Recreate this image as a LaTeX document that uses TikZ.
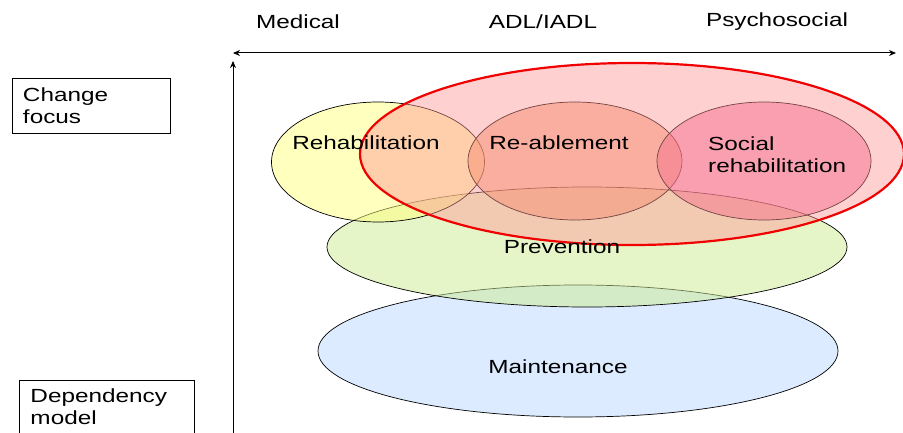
\documentclass[tikz,border=0pt]{standalone}
\usepackage{fontspec}
\setmainfont{Liberation Sans}[FakeStretch=1.28]
\usetikzlibrary{shapes.geometric,arrows.meta}
\definecolor{rehabfill}{RGB}{255,255,125}
\definecolor{reablefill}{RGB}{237,135,81}
\definecolor{socialfill}{RGB}{237,81,137}
\definecolor{prevfill}{RGB}{205,235,145}
\definecolor{maintfill}{RGB}{185,215,255}
\definecolor{redfill}{RGB}{255,150,150}
\definecolor{redline}{RGB}{240,0,0}
\tikzset{
  blob/.style={ellipse, draw=black, line width=0.7pt, inner sep=0pt, fill opacity=0.5},
  bigred/.style={ellipse, draw=redline, line width=2.2pt, inner sep=0pt, fill=redfill, fill opacity=0.45},
  lbl/.style={inner sep=0pt, text=black},
  box/.style={draw=black, line width=0.7pt, align=left, inner sep=0pt},
  axis/.style={line width=1pt, -{Stealth[length=7pt,width=6pt]}},
  axis2/.style={line width=1pt, {Stealth[length=7pt,width=6pt]}-{Stealth[length=7pt,width=6pt]}}
}
\begin{document}
\begin{tikzpicture}[x=1pt, y=-1pt, font=\fontsize{19}{22}\selectfont]
\useasboundingbox (0,0) rectangle (903,433);
% axes
\coordinate (hl) at (233,53);
\coordinate (hr) at (896,53);
\coordinate (vb) at (233,440);
\coordinate (vt) at (233,61);
\draw[axis2] (hl) -- (hr);
\draw[axis] (vb) -- (vt);
% axis labels
\node[lbl] (med) at (298,22) {Medical};
\node[lbl] (adl) at (543,22) {ADL/IADL};
\node[lbl] (psy) at (777,22) {Psychosocial};
% side boxes
\node[box, minimum width=158pt, minimum height=55pt, text width=136pt] (cf) at (91,105.5) {Change\\focus};
\node[box, minimum width=175pt, minimum height=54pt, text width=152pt] (dm) at (106.5,407) {Dependency\\model};
% ellipses
\node[blob, fill=maintfill, minimum width=520pt, minimum height=132pt] (maint) at (578,351) {};
\node[blob, fill=prevfill, minimum width=520pt, minimum height=120pt] (prev) at (587,247) {};
\node[blob, fill=rehabfill, minimum width=213pt, minimum height=120pt] (rehab) at (378,162) {};
\node[blob, fill=reablefill, minimum width=214pt, minimum height=118pt] (reable) at (575,161) {};
\node[blob, fill=socialfill, minimum width=214pt, minimum height=118pt] (social) at (764,161) {};
\node[bigred, minimum width=544pt, minimum height=182pt] (change) at (632,154) {};
% labels
\node[lbl] (trehab) at (366,143) {Rehabilitation};
\node[lbl] (treable) at (559,143) {Re-ablement};
\node[lbl, anchor=west, align=left] (tsocial) at (708,154.5) {Social\\rehabilitation};
\node[lbl] (tprev) at (562,247) {Prevention};
\node[lbl] (tmaint) at (558,367) {Maintenance};
\end{tikzpicture}
\end{document}
